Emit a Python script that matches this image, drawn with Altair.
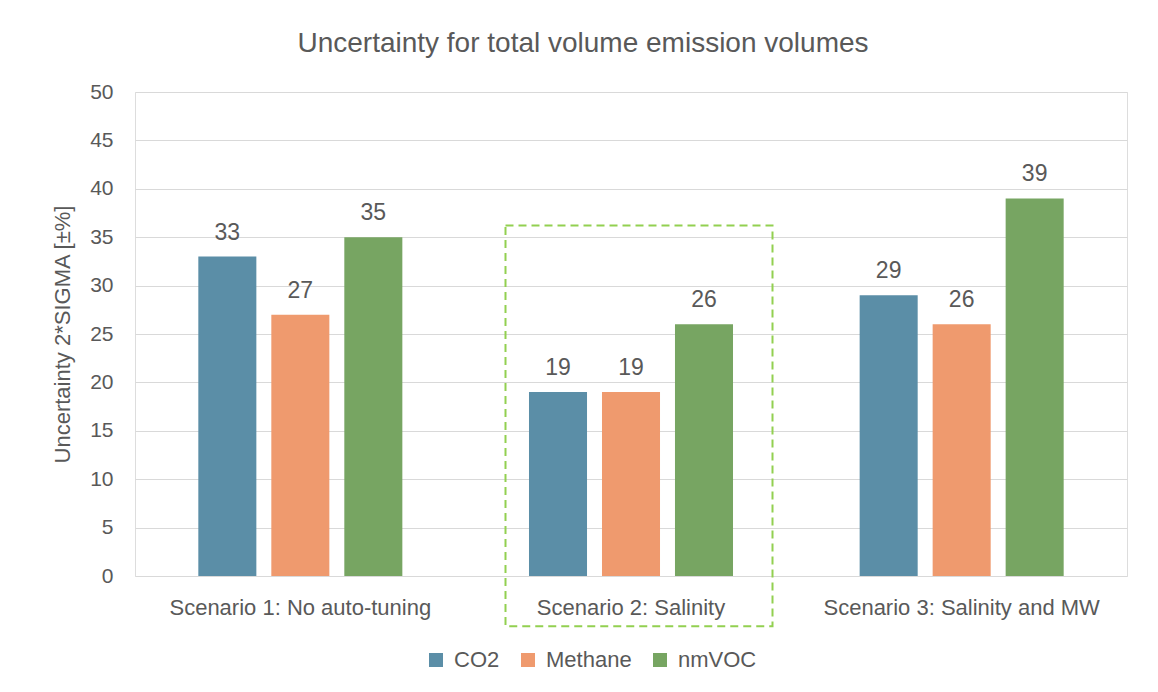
import altair as alt
import pandas as pd

scenarios = ["Scenario 1: No auto-tuning", "Scenario 2: Salinity", "Scenario 3: Salinity and MW"]
gases = ["CO2", "Methane", "nmVOC"]
co2 = [33, 19, 29]
methane = [27, 19, 26]
nmvoc = [35, 26, 39]
colors = ["#5B8EA7", "#EF9A6E", "#77A562"]
y_ticks = [0, 5, 10, 15, 20, 25, 30, 35, 40, 45, 50]

rows = []
for i, s in enumerate(scenarios):
    for g, vals in zip(gases, [co2, methane, nmvoc]):
        rows.append({"scenario": s, "gas": g, "value": vals[i]})
df = pd.DataFrame(rows)

highlight = pd.DataFrame({"scenario": ["Scenario 2: Salinity"], "top": [36.2], "bottom": [-5.2]})

FONT = "Liberation Sans"
GRAY = "#595959"

x_enc = alt.X(
    "scenario:N", sort=scenarios,
    scale=alt.Scale(paddingInner=0.383, paddingOuter=0.1915),
    axis=alt.Axis(title=None, labelAngle=0, labelFontSize=22, labelColor=GRAY,
                  labelFont=FONT, ticks=False, domain=False, labelPadding=21, labelLimit=0),
)
y_enc = alt.Y(
    "value:Q",
    scale=alt.Scale(domain=[0, 50], nice=False),
    axis=alt.Axis(values=y_ticks, title="Uncertainty 2*SIGMA [±%]", titleFontSize=22,
                  titleFontWeight="normal", titleColor=GRAY, titleFont=FONT,
                  labelFontSize=21, labelColor=GRAY, labelFont=FONT, ticks=False,
                  domain=False, labelPadding=22, titlePadding=15,
                  gridColor="#D9D9D9", gridWidth=1.2),
)
xoff = alt.XOffset("gas:N", sort=gases, scale=alt.Scale(paddingInner=0.205, paddingOuter=0))

bars = alt.Chart(df).mark_bar().encode(
    x=x_enc, y=y_enc, xOffset=xoff,
    color=alt.Color("gas:N", sort=gases, scale=alt.Scale(domain=gases, range=colors),
                    legend=alt.Legend(title=None, orient="none", direction="horizontal",
                                      legendX=290, legendY=557, symbolType="square",
                                      symbolSize=196, symbolStrokeWidth=0,
                                      labelFontSize=22, labelColor=GRAY, labelFont=FONT,
                                      columnPadding=17, labelOffset=7)),
)
labels = alt.Chart(df).mark_text(baseline="alphabetic", dy=-17, fontSize=23, color=GRAY, font=FONT).encode(
    x=alt.X("scenario:N", sort=scenarios), y="value:Q", xOffset=xoff, text="value:Q",
)
box = alt.Chart(highlight).mark_rect(filled=False, stroke="#92D050", strokeDash=[8, 5],
                                     strokeWidth=2, width=267, xOffset=8).encode(
    x=alt.X("scenario:N", sort=scenarios), y="top:Q", y2="bottom:Q",
)

chart = alt.layer(bars, labels, box).properties(
    width=992, height=484,
    title=alt.TitleParams("Uncertainty for total volume emission volumes", fontSize=28,
                          fontWeight="normal", color=GRAY, font=FONT, anchor="middle",
                          offset=23, dx=-48),
    autosize=alt.AutoSizeParams(type="none"),
    padding={"left": 127, "top": 84, "right": 23, "bottom": 100},
).configure_view(stroke=None).configure(background="white")

chart.save("out.html", embed_options={"renderer": "svg", "actions": False})
